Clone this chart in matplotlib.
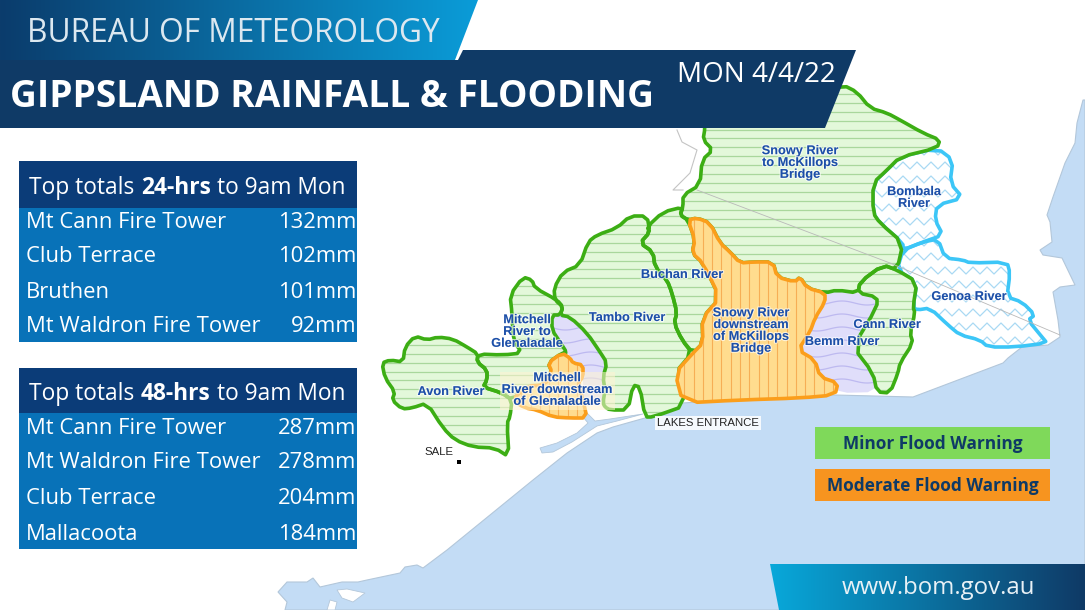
"""Gippsland rainfall and flood warning map, drawn in pixel coordinates."""

import numpy as np
import matplotlib
matplotlib.use("Agg")
import matplotlib.pyplot as plt
from matplotlib.colors import LinearSegmentedColormap
from matplotlib.patches import Polygon, Rectangle
import matplotlib.patheffects as pe

stations_24 = ["Mt Cann Fire Tower", "Club Terrace", "Bruthen", "Mt Waldron Fire Tower"]
totals_24 = ["132mm", "102mm", "101mm", "92mm"]
stations_48 = ["Mt Cann Fire Tower", "Mt Waldron Fire Tower", "Club Terrace", "Mallacoota"]
totals_48 = ["287mm", "278mm", "204mm", "184mm"]

# catchment outlines, in image pixels
avon = [(382, 363), (390, 360), (403, 362), (405, 347), (415, 336), (427, 340), (438, 337), (453, 339),
        (467, 347), (478, 354), (477, 362), (487, 370), (487, 380), (483, 387), (502, 393), (512, 400),
        (510, 417), (507, 423), (509, 457), (495, 448), (473, 447), (455, 440), (443, 428), (427, 403),
        (412, 408), (402, 409), (392, 400), (395, 392), (385, 378)]
mitchell_upper = [(510, 295), (523, 277), (532, 280), (535, 288), (557, 300), (563, 307), (560, 315),
                  (552, 315), (552, 330), (560, 342), (567, 353), (562, 353), (548, 363), (552, 372),
                  (545, 385), (527, 387), (512, 400), (502, 393), (483, 387), (487, 380), (487, 370),
                  (477, 362), (478, 354), (503, 355), (522, 353), (513, 340), (512, 313)]
mitchell_mid = [(552, 315), (570, 317), (587, 333), (600, 352), (607, 363), (603, 377), (605, 390),
                (603, 403), (583, 407), (583, 370), (567, 353), (560, 342), (552, 330)]
mitchell_lower = [(562, 353), (570, 358), (573, 363), (583, 365), (583, 377), (578, 383), (583, 400),
                  (587, 418), (570, 418), (553, 417), (537, 410), (525, 408), (512, 400), (527, 386),
                  (545, 385), (552, 372), (548, 363)]
tambo = [(560, 315), (563, 307), (555, 300), (554, 288), (563, 272), (580, 265), (588, 242), (597, 235),
         (617, 228), (630, 216), (647, 216), (650, 232), (640, 243), (653, 252), (655, 267), (667, 280),
         (672, 293), (677, 313), (674, 323), (682, 340), (692, 353), (675, 373), (687, 405), (653, 417),
         (645, 417), (640, 387), (633, 385), (628, 410), (610, 410), (605, 407), (603, 403), (605, 390),
         (603, 377), (607, 363), (600, 352), (587, 333), (570, 317)]
buchan = [(650, 232), (647, 227), (663, 212), (683, 207), (680, 215), (688, 220), (695, 240), (692, 253),
          (703, 263), (720, 298), (702, 318), (703, 343), (693, 353), (682, 340), (674, 323), (677, 313),
          (672, 293), (667, 280), (655, 267), (653, 252), (640, 243)]
snowy_upper = [(680, 215), (683, 207), (683, 195), (700, 185), (702, 160), (713, 150), (703, 140),
               (705, 128), (705, 100), (843, 85), (857, 92), (870, 108), (887, 113), (900, 120), (923, 133),
               (940, 140), (937, 148), (900, 157), (887, 170), (873, 183), (873, 213), (880, 223),
               (903, 243), (897, 270), (883, 265), (860, 282), (858, 293), (837, 290), (825, 293),
               (807, 288), (800, 277), (795, 282), (777, 277), (773, 262), (753, 262), (740, 263),
               (730, 252), (720, 243), (710, 223), (697, 218), (688, 220)]
snowy_lower = [(688, 220), (697, 218), (710, 223), (720, 243), (730, 252), (740, 263), (753, 262),
               (773, 262), (777, 277), (795, 282), (800, 277), (807, 288), (825, 293), (825, 302),
               (815, 318), (810, 332), (798, 350), (815, 360), (820, 377), (838, 383), (835, 395),
               (800, 398), (740, 400), (683, 403), (675, 373), (693, 353), (703, 343), (702, 318),
               (720, 298), (703, 263), (692, 253), (695, 240)]
bemm = [(825, 293), (837, 290), (858, 293), (877, 297), (877, 307), (853, 347), (873, 373), (878, 392),
        (837, 393), (838, 383), (820, 377), (815, 360), (798, 350), (810, 332), (815, 318), (825, 302)]
cann = [(860, 282), (883, 265), (897, 270), (917, 282), (913, 307), (915, 313), (910, 333), (913, 343),
        (900, 363), (898, 373), (890, 393), (877, 392), (873, 373), (853, 347), (877, 307), (877, 297),
        (858, 293)]
bombala = [(937, 148), (953, 160), (950, 183), (963, 198), (937, 205), (935, 220), (943, 235), (923, 242),
           (903, 250), (903, 243), (880, 223), (873, 213), (873, 183), (887, 170), (900, 157)]
genoa = [(897, 270), (903, 250), (923, 242), (938, 239), (945, 258), (963, 260), (970, 263), (1007, 262),
         (1010, 273), (1007, 297), (1022, 302), (1035, 315), (1028, 320), (1042, 337), (1047, 343),
         (1015, 347), (988, 347), (980, 340), (960, 335), (948, 325), (930, 308), (917, 310), (913, 307),
         (917, 282)]

sea = [(285, 610), (287, 602), (278, 592), (287, 582), (307, 582), (313, 578), (320, 587), (342, 582),
       (358, 582), (367, 580), (400, 573), (405, 567), (417, 565), (423, 568), (447, 550), (533, 480),
       (567, 453), (597, 433), (613, 427), (645, 418), (683, 403), (740, 399), (835, 395), (913, 397),
       (1003, 363), (1008, 358), (1022, 347), (1048, 345), (1060, 337), (1058, 320), (1053, 292),
       (1060, 287), (1075, 285), (1062, 258), (1043, 255), (1040, 250), (1052, 242), (1050, 222),
       (1047, 215), (1053, 197), (1065, 163), (1075, 143), (1077, 123), (1083, 100), (1085, 100),
       (1085, 610)]
lakes = [(587, 413), (595, 421), (610, 419), (643, 414), (617, 421), (597, 426), (572, 442), (553, 452),
         (542, 453), (540, 448), (557, 443), (577, 433), (588, 423), (583, 417)]
inlet_island = [(337, 590), (347, 589), (365, 593), (353, 602), (342, 598)]
inlet_shore = [(327, 610), (330, 600), (337, 602), (335, 610)]

# label text, x, y
river_labels = [
    ("Snowy River\nto McKillops\nBridge", 800, 163),
    ("Bombala\nRiver", 914, 198),
    ("Genoa River", 969, 297),
    ("Cann River", 887, 325),
    ("Bemm River", 842, 342),
    ("Snowy River\ndownstream\nof McKillops\nBridge", 751, 331),
    ("Buchan River", 682, 275),
    ("Tambo River", 627, 318),
    ("Mitchell\nRiver to\nGlenaladale", 527, 332),
    ("Avon River", 451, 392),
    ("Mitchell\nRiver downstream\nof Glenaladale", 557, 390),
]

NAVY = "#0f3a66"
SEA = "#c3dcf5"
GREEN_EDGE = "#3cae14"
ORANGE_EDGE = "#fb9e1b"
BLUE_EDGE = "#3cc6f7"

plt.rcParams["font.family"] = ["Open Sans", "DejaVu Sans"]

fig = plt.figure(figsize=(10.85, 6.10), dpi=100)
ax = fig.add_axes([0, 0, 1, 1])
ax.axis("off")


def rounded(points):
    # one pass of corner cutting so the outlines look hand traced
    pts = np.array(points, dtype=float)
    nxt = np.roll(pts, -1, axis=0)
    out = np.empty((len(pts) * 2, 2))
    out[0::2] = 0.75 * pts + 0.25 * nxt
    out[1::2] = 0.25 * pts + 0.75 * nxt
    return out


def add_region(points, fill, edge, z):
    outline = rounded(points)
    patch = Polygon(outline, closed=True, facecolor=fill, edgecolor="none", zorder=z)
    ax.add_patch(patch)
    if edge:
        ax.add_patch(Polygon(outline, closed=True, fill=False, edgecolor=edge, linewidth=2.6,
                             joinstyle="round", zorder=z + 0.5))
    return patch


def texture(patch, points, kind, color, z):
    # hatch lines clipped to the catchment
    pts = np.array(points)
    x0, y0 = pts.min(axis=0)
    x1, y1 = pts.max(axis=0)
    if kind == "vertical":
        for x in np.arange(x0, x1, 9.3):
            ln, = ax.plot([x, x], [y0, y1], color=color, lw=0.8, zorder=z)
            ln.set_clip_path(patch)
        return
    xs = np.arange(x0, x1 + 1, 1.0)
    if kind == "horizontal":
        step, wave = 8.9, xs * 0
    elif kind == "wave":
        step, wave = 13.0, 2.0 * np.sin(xs / 8.0)
    else:
        # zigzag
        step, wave = 14.0, 3.5 * np.abs(((xs / 7.0) % 2) - 1) * 2
    for y in np.arange(y0, y1, step):
        ln, = ax.plot(xs, y + wave, color=color, lw=0.9, zorder=z)
        ln.set_clip_path(patch)


def gradient(points, left, right, z):
    cmap = LinearSegmentedColormap.from_list("band", [left, right])
    pts = np.array(points)
    im = ax.imshow(np.linspace(0, 1, 256)[None, :], cmap=cmap, aspect="auto", zorder=z,
                   extent=(pts[:, 0].min(), pts[:, 0].max(), pts[:, 1].max(), pts[:, 1].min()))
    clip = Polygon(points, closed=True, facecolor="none", edgecolor="none", zorder=z)
    ax.add_patch(clip)
    im.set_clip_path(clip)


# land and sea
ax.add_patch(Polygon(sea, closed=True, facecolor=SEA, edgecolor="#b3c7da", linewidth=0.8, zorder=1))
ax.add_patch(Polygon(lakes, closed=True, facecolor=SEA, edgecolor="#b3c7da", linewidth=0.6, zorder=1))
ax.add_patch(Polygon(inlet_island, closed=True, facecolor="white", edgecolor="#b3c7da", linewidth=0.6, zorder=2))
ax.add_patch(Polygon(inlet_shore, closed=True, facecolor="white", edgecolor="#b3c7da", linewidth=0.6, zorder=2))
ax.plot([677, 682, 697, 690, 673, 683], [130, 142, 150, 173, 190, 190], color="#c4c4c4", lw=0.8, zorder=2)

# catchments
for pts in (bombala, genoa):
    p = add_region(pts, "#ffffff", BLUE_EDGE, 3)
    texture(p, pts, "zigzag", "#a9d9f3", 3.2)
for pts in (mitchell_mid, bemm):
    p = add_region(pts, "#e0defa", None, 3)
    texture(p, pts, "wave", "#bdb9f0", 3.2)
for pts in (avon, mitchell_upper, tambo, buchan, snowy_upper, cann):
    p = add_region(pts, "#e3f8da", GREEN_EDGE, 4)
    texture(p, pts, "horizontal", "#a9d79c", 4.2)
for pts in (mitchell_lower, snowy_lower):
    p = add_region(pts, "#ffdc8e", ORANGE_EDGE, 5)
    texture(p, pts, "vertical", "#f6ae55", 5.2)

ax.plot([697, 890, 1060], [190, 263, 335], color="#b9b9b9", lw=0.6, zorder=5.8)

# pale backing that sits behind the lower Mitchell label
ax.add_patch(Rectangle((500, 372), 115, 38, facecolor="#fff4d2", alpha=0.55, edgecolor="none", zorder=5.9))

halo = [pe.withStroke(linewidth=1.6, foreground=(1, 1, 1, 0.65))]
for label, x, y in river_labels:
    ax.text(x, y, label, ha="center", va="center", color="#1c4fa8", fontsize=9.2,
            family=["Liberation Sans", "DejaVu Sans"], weight="bold", linespacing=0.98,
            path_effects=halo, zorder=6)

# towns
ax.text(708, 423, "LAKES ENTRANCE", ha="center", va="center", fontsize=8.2, color="#222222",
        family=["Liberation Sans"], zorder=6,
        bbox=dict(facecolor="white", edgecolor="none", pad=1.2, alpha=0.85))
ax.text(439, 452, "SALE", ha="center", va="center", fontsize=8.2, color="#222222",
        family=["Liberation Sans"], zorder=6)
ax.add_patch(Rectangle((457, 460), 4, 4, facecolor="black", edgecolor="none", zorder=6))

# header bands
top_band = [(0, 0), (478, 0), (455, 60), (0, 60)]
gradient(top_band, "#0b3c6c", "#0a9cd8", 7)
title_band = [(0, 60), (458, 60), (463, 50), (856, 50), (825, 128), (0, 128)]
ax.add_patch(Polygon(title_band, closed=True, facecolor=NAVY, edgecolor="none", zorder=8))
ax.text(27, 34, "BUREAU OF METEOROLOGY", ha="left", va="center", fontsize=22.8, color="#dce8f0", zorder=9)
ax.text(10, 97, "GIPPSLAND RAINFALL & FLOODING", ha="left", va="center", fontsize=26.7, weight="bold",
        color="white", zorder=9)
ax.text(677, 75, "MON 4/4/22", ha="left", va="center", fontsize=20, color="white", zorder=9)

foot_band = [(770, 564), (1085, 564), (1085, 610), (779, 610)]
gradient(foot_band, "#08a8da", NAVY, 7)
ax.text(938, 588, "www.bom.gov.au", ha="center", va="center", fontsize=17.3, color="#e8f1f6", zorder=9)


def rain_table(top, head_h, label, stations, totals, row_y):
    ax.add_patch(Rectangle((19, top), 338, head_h, facecolor="#0b3c78", edgecolor="none", zorder=7))
    ax.add_patch(Rectangle((19, top + head_h), 338, row_y[-1] + 17 - top - head_h, facecolor="#0872b8",
                           edgecolor="none", zorder=7))
    # mixed weight heading, pieces laid out by their measured widths
    base = top + head_h / 2 + 9
    x = 29
    renderer = fig.canvas.get_renderer()
    for piece, weight in (("Top totals", "normal"), (label, "bold"), ("to 9am Mon", "normal")):
        t = ax.text(x, base, piece, ha="left", va="baseline", fontsize=16.4, weight=weight,
                    color="white", zorder=9)
        x += t.get_window_extent(renderer).width + 6.5
    for name, total, y in zip(stations, totals, row_y):
        ax.text(26, y + 2, name, ha="left", va="center", fontsize=15.8, color="white", zorder=9)
        ax.text(356, y + 2, total, ha="right", va="center", fontsize=15.8, color="white", zorder=9)


ax.set_xlim(0, 1085)
ax.set_ylim(610, 0)

rain_table(161, 47, "24-hrs", stations_24, totals_24, [220, 255, 290, 325])
rain_table(368, 45, "48-hrs", stations_48, totals_48, [426, 461, 496, 532])

# warning key
ax.add_patch(Rectangle((815, 427), 235, 32, facecolor="#7fd95a", edgecolor="none", zorder=7))
ax.add_patch(Rectangle((815, 469), 235, 32, facecolor="#f7941f", edgecolor="none", zorder=7))
ax.text(932.5, 444, "Minor Flood Warning", ha="center", va="center", fontsize=12.4, weight="bold",
        color=NAVY, zorder=9)
ax.text(932.5, 486, "Moderate Flood Warning", ha="center", va="center", fontsize=12.4, weight="bold",
        color=NAVY, zorder=9)

fig.savefig("out.png", dpi=100, facecolor="white")
